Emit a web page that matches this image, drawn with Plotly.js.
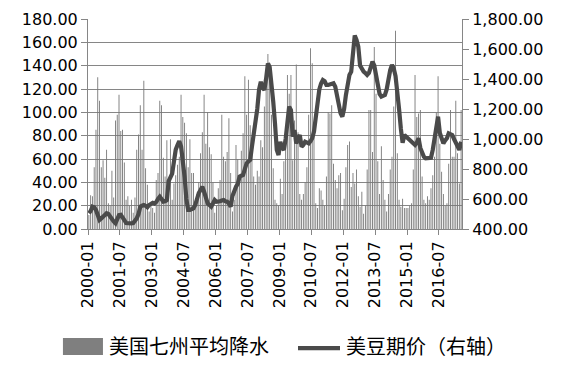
<!DOCTYPE html>
<html><head><meta charset="utf-8">
<script src="https://cdn.plot.ly/plotly-3.0.1.min.js"></script>
<style>html,body{margin:0;padding:0;background:#fff}#chart{width:566px;height:365px}</style>
</head><body><div id="chart"></div>
<script>
// monthly series, first month 2000-01, last month 2017-07
const firstMonth = '2000-01-16';
const precipName = '美国七州平均降水';
const priceName = '美豆期价（右轴）';

const precip = [
  12, 29, 28, 53, 85, 130, 110, 53, 59, 44, 68, 22,
  20, 50, 27, 93, 98, 115, 84, 85, 57, 25, 28, 20,
  25, 14, 27, 68, 81, 106, 68, 127, 52, 38, 15, 22,
  18, 14, 42, 48, 110, 106, 61, 45, 76, 30, 77, 25,
  39, 46, 55, 62, 115, 96, 91, 82, 53, 77, 48, 48,
  22, 30, 40, 65, 83, 115, 73, 100, 70, 64, 40, 14,
  20, 35, 42, 98, 62, 58, 66, 95, 48, 15, 25, 72,
  60, 40, 67, 82, 131, 98, 128, 89, 73, 45, 38, 50,
  45, 76, 70, 105, 128, 150, 142, 98, 52, 25, 22, 20,
  43, 30, 58, 75, 132, 116, 132, 59, 93, 141, 83, 30,
  25, 30, 40, 53, 98, 155, 142, 81, 22, 18, 35, 33,
  25, 20, 45, 100, 99, 106, 56, 42, 35, 46, 48, 16,
  26, 53, 72, 75, 36, 48, 39, 51, 28, 19, 32, 13,
  20, 51, 102, 102, 66, 156, 116, 58, 30, 71, 42, 25,
  15, 30, 51, 62, 105, 170, 65, 25, 19, 26, 18, 18,
  18, 20, 22, 51, 132, 96, 99, 102, 45, 25, 22, 28,
  25, 35, 46, 62, 100, 131, 73, 49, 30, 20, 22, 56,
  102, 62, 62, 110, 65, 39, 102
];

const price = [
  505, 520, 549, 545, 527, 500, 460, 470, 482, 490, 505, 500,
  480, 471, 450, 438, 460, 493, 495, 471, 460, 440, 438, 435,
  438, 440, 455, 471, 500, 549, 555, 560, 555, 545, 560, 565,
  575, 570, 580, 600, 615, 600, 582, 585, 593, 720, 750, 769,
  850, 929, 960, 985, 950, 860, 749, 600, 527, 527, 530, 538,
  560, 615, 640, 660, 682, 649, 600, 571, 560, 549, 570, 593,
  582, 582, 585, 590, 593, 585, 582, 570, 549, 620, 660, 682,
  700, 749, 755, 760, 800, 838, 850, 860, 950, 1030, 1100, 1200,
  1330, 1382, 1340, 1327, 1404, 1504, 1480, 1380, 1250, 1104, 927, 893,
  982, 940, 927, 1000, 1093, 1216, 1193, 1016, 1060, 971, 1000, 1027,
  949, 960, 982, 975, 971, 985, 1005, 1049, 1150, 1250, 1330, 1370,
  1393, 1385, 1360, 1360, 1362, 1365, 1371, 1349, 1282, 1200, 1171, 1149,
  1200, 1293, 1380, 1427, 1449, 1600, 1690, 1660, 1616, 1490, 1460, 1449,
  1440, 1427, 1440, 1471, 1516, 1490, 1427, 1327, 1300, 1282, 1285, 1293,
  1330, 1420, 1460, 1493, 1470, 1420, 1330, 1200, 1070, 975, 1027, 1016,
  1010, 995, 982, 970, 960, 975, 1005, 940, 900, 882, 871, 871,
  871, 875, 927, 1000, 1093, 1149, 1040, 993, 971, 990, 1005, 1038,
  1035, 1027, 1000, 971, 960, 927, 982
];

const MONTH_MS = 2629746000;
const axisGray = '#868686';
const cjk = 'Noto Sans CJK SC';

const traces = [
  {type: 'bar', name: precipName, x0: firstMonth, dx: MONTH_MS, y: precip,
   marker: {color: '#777777', line: {width: 0}}, yaxis: 'y', hoverinfo: 'skip'},
  {type: 'scatter', mode: 'lines', name: priceName, x0: firstMonth, dx: MONTH_MS, y: price,
   yaxis: 'y2', line: {color: '#4a4a4a', width: 4.2}, hoverinfo: 'skip'}
];

const layout = {
  width: 566, height: 365,
  margin: {l: 88, r: 104, t: 19, b: 136, pad: 0},
  paper_bgcolor: '#ffffff', plot_bgcolor: '#ffffff',
  showlegend: false,
  bargap: 0.5,
  font: {family: 'DejaVu Sans', size: 16, color: '#000'},
  xaxis: {type: 'date', range: ['2000-01-01', '2017-08-01'], tick0: '2000-01-01', dtick: 'M18',
          tickformat: '%Y-%m', tickangle: -90, ticks: 'outside', ticklen: 5, tickcolor: axisGray,
          showline: true, linecolor: axisGray, linewidth: 1, showgrid: false, zeroline: false,
          tickfont: {family: 'DejaVu Sans', size: 16, color: '#000'}},
  yaxis: {range: [0, 180], tick0: 0, dtick: 20, tickformat: '.2f', ticks: 'outside', ticklen: 6,
          tickcolor: axisGray, showline: true, linecolor: axisGray, showgrid: true, gridcolor: axisGray,
          gridwidth: 1, zeroline: false, tickfont: {family: 'DejaVu Sans', size: 16, color: '#000'}},
  yaxis2: {overlaying: 'y', side: 'right', range: [400, 1800], tick0: 400, dtick: 200, tickformat: ',.2f',
           ticks: 'outside', ticklen: 6, tickcolor: axisGray, showline: true, linecolor: axisGray,
           showgrid: false, zeroline: false, tickfont: {family: 'DejaVu Sans', size: 16, color: '#000'}},
  shapes: [
    {type: 'rect', xref: 'paper', yref: 'paper', x0: -0.067, x1: 0.040, y0: -0.600, y1: -0.519,
     fillcolor: '#7f7f7f', line: {width: 0}},
    {type: 'line', xref: 'paper', yref: 'paper', x0: 0.5615, x1: 0.6738, y0: -0.567, y1: -0.567,
     line: {color: '#4a4a4a', width: 4.2}}
  ],
  annotations: [
    {xref: 'paper', yref: 'paper', x: 0.052, y: -0.557, xanchor: 'left', yanchor: 'middle',
     text: precipName, showarrow: false, font: {family: cjk, size: 20, color: '#000'}},
    {xref: 'paper', yref: 'paper', x: 0.684, y: -0.557, xanchor: 'left', yanchor: 'middle',
     text: priceName, showarrow: false, font: {family: cjk, size: 20, color: '#000'}}
  ]
};

Plotly.newPlot('chart', traces, layout, {staticPlot: true, displayModeBar: false});
</script>
</body></html>
